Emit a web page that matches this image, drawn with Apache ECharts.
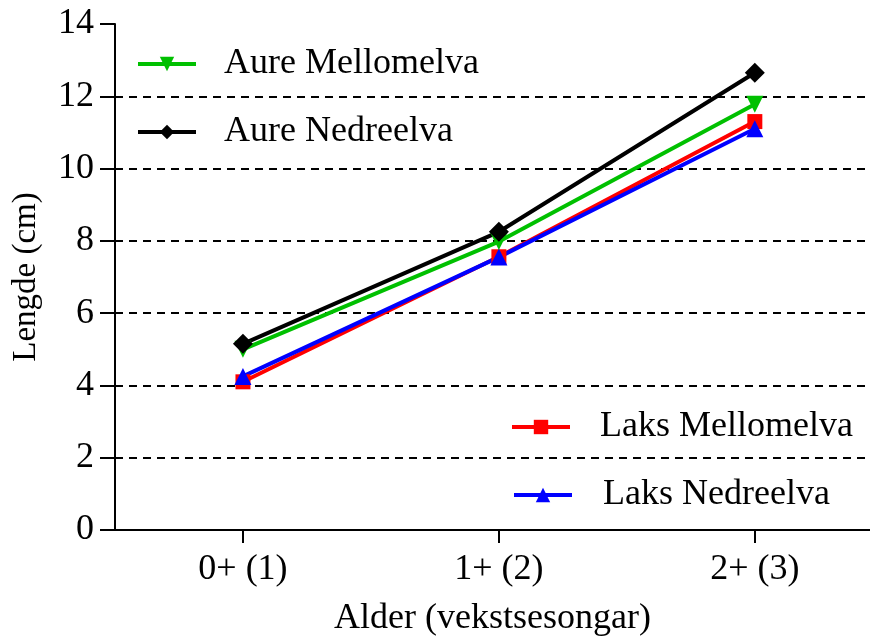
<!DOCTYPE html>
<html><head><meta charset="utf-8">
<script src="https://cdn.jsdelivr.net/npm/echarts@6/dist/echarts.min.js"></script>
<style>html,body{margin:0;padding:0;background:#fff}#c{width:870px;height:636px}</style>
</head><body><div id="c"></div>
<script>
const categories = ['0+ (1)', '1+ (2)', '2+ (3)'];
const laksMellomelva = [4.1, 7.56, 11.3];
const laksNedreelva = [4.25, 7.55, 11.1];
const aureMellomelva = [5.0, 7.98, 11.78];
const aureNedreelva = [5.15, 8.25, 12.65];
const yTicks = { min: 0, max: 14, interval: 2 };
const xPositions = [1, 2, 3];

const F = 'Liberation Serif, Times New Roman, serif';
const chart = echarts.init(document.getElementById('c'));
function lg(name, left, top, gap) {
  return {
    data: [name], left: left, top: top, padding: 0, orient: 'vertical',
    itemWidth: 58, itemHeight: 18,
    lineStyle: { width: 4 },
    textStyle: { fontFamily: F, fontSize: 36, color: '#000', padding: [0, 0, 0, gap] },
    selectedMode: false
  };
}
function s(name, data, color, symbol, size, rot) {
  return {
    name: name, type: 'line', data: data.map((v, i) => [xPositions[i], v]),
    symbol: symbol, symbolSize: size, symbolRotate: rot || 0,
    lineStyle: { color: color, width: 4 }, itemStyle: { color: color }, z: 3
  };
}
chart.setOption({
  animation: false,
  grid: { left: 115, top: 24, bottom: 106, right: 0, containLabel: false, outerBoundsMode: 'none' },
  legend: [
    lg('Aure Mellomelva', 136, 46, 23),
    lg('Aure Nedreelva', 136, 114, 23),
    lg('Laks Mellomelva', 510, 409, 25),
    lg('Laks Nedreelva', 512, 477, 26)
  ],
  xAxis: {
    type: 'value', min: 0.5, max: 3.45,
    splitLine: { show: false },
    axisLine: { lineStyle: { color: '#000', width: 2 } },
    axisTick: { show: true, customValues: xPositions, length: 13, lineStyle: { color: '#000', width: 2 } },
    axisLabel: { customValues: xPositions, formatter: v => categories[Math.round(v) - 1] || '',
      fontFamily: F, fontSize: 36, color: '#000', margin: 22 },
    name: 'Alder (vekstsesongar)', nameLocation: 'middle', nameGap: 71,
    nameTextStyle: { fontFamily: F, fontSize: 36, color: '#000' }
  },
  yAxis: {
    type: 'value', min: yTicks.min, max: yTicks.max, interval: yTicks.interval,
    axisLine: { show: true, lineStyle: { color: '#000', width: 2 } },
    axisTick: { show: true, length: 15, lineStyle: { color: '#000', width: 2 } },
    axisLabel: { fontFamily: F, fontSize: 36, color: '#000', margin: 21 },
    splitLine: { show: true, showMaxLine: false, showMinLine: false, lineStyle: { color: '#000', width: 2, type: [8, 6] } },
    name: 'Lengde (cm)', nameLocation: 'middle', nameGap: 72,
    nameTextStyle: { fontFamily: F, fontSize: 33, color: '#000' }
  },
  series: [
    s('Laks Mellomelva', laksMellomelva, '#ff0000', 'rect', 15),
    s('Laks Nedreelva', laksNedreelva, '#0000ff', 'triangle', 17),
    s('Aure Mellomelva', aureMellomelva, '#00c000', 'triangle', 17, 180),
    s('Aure Nedreelva', aureNedreelva, '#000000', 'diamond', 20)
  ]
});
</script></body></html>
